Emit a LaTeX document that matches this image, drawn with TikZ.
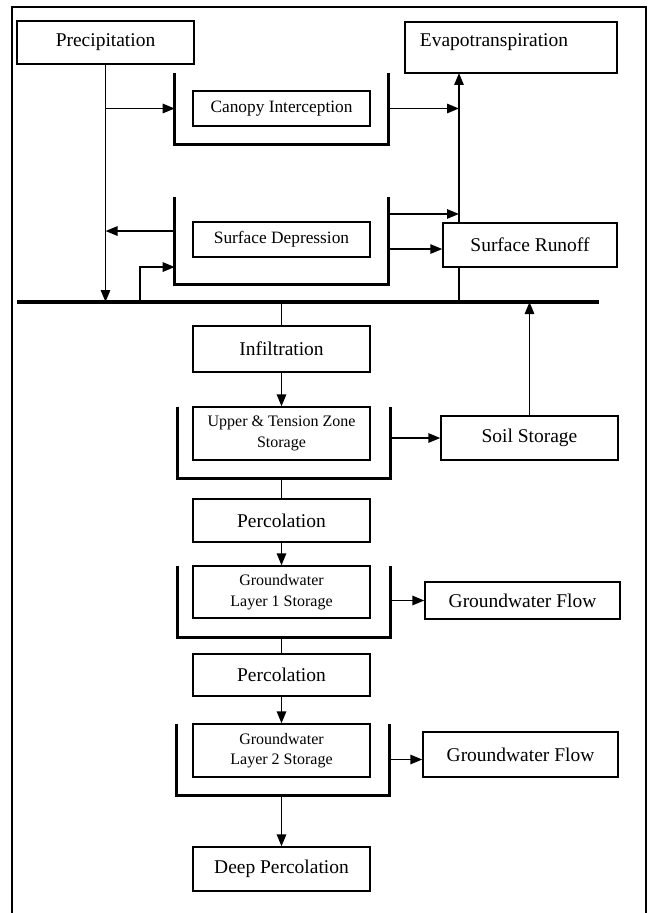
\documentclass[tikz,border=0pt]{standalone}
\usepackage{fontspec}
\setmainfont{Liberation Serif}
\usetikzlibrary{arrows.meta}
\newcommand{\pxu}{0.75pt}

\begin{document}
\begin{tikzpicture}[
					x=0.75pt,y=-0.75pt,
					bbox/.style={draw,line width=1pt,fill=white,inner sep=0pt,font=\fontsize{14.6}{17}\selectfont},
					mbox/.style={bbox,font=\fontsize{13}{15.5}\selectfont},
					sbox/.style={bbox,align=center,font=\fontsize{12}{15.5}\selectfont},
					blab/.style={inner sep=0pt,font=\fontsize{14.6}{17}\selectfont},
					tray/.style={inner sep=0pt},
					trayline/.style={line width=2.4pt},
					fline/.style={line width=1.4pt},
					flow/.style={fline,-{Triangle[length=9pt,width=7pt]}}
					]
					\useasboundingbox (0,0) rectangle (651,913);
					\draw[line width=1.5pt] (12,913) -- (12,7) -- (646,7) -- (646,913);
					\foreach \nm/\x/\y/\w/\h in {cb/281.5/108.5/213/71,sb/281.5/240.5/213/87,ub/284/442.5/212/71,gb1/284/601.5/212/71,gb2/283/759.5/212/71}{
						\node[tray,minimum width=\w*\pxu,minimum height=\h*\pxu] (\nm) at (\x,\y) {};
						\draw[trayline] (\nm.north west) |- (\nm.south east) -- (\nm.north east);
					}
					\coordinate (barL) at (17,302);
					\coordinate (barR) at (599,302);
					\draw[line width=3pt] (barL) -- (barR);
					\node[bbox,minimum width=177*\pxu,minimum height=43*\pxu] (prec) at (105.5,42.5) {Precipitation};
					\node[bbox,minimum width=212*\pxu,minimum height=51*\pxu] (et) at (511,47.5) {};
					\node[blab] (etlab) at (494,42) {Evapotranspiration};
					\node[mbox,minimum width=177*\pxu,minimum height=35*\pxu] (canopy) at (281.5,108.5) {Canopy Interception};
					\node[mbox,minimum width=177*\pxu,minimum height=35*\pxu] (sd) at (281.5,239.5) {Surface Depression};
					\node[bbox,minimum width=174*\pxu,minimum height=44*\pxu] (runoff) at (530,245) {Surface Runoff};
					\foreach \nm/\y/\h/\lab in {infil/349/46/Infiltration,perc1/520.5/43/Percolation,perc2/675/42/Percolation,deep/869/44/Deep Percolation}{
						\node[bbox,minimum width=177*\pxu,minimum height=\h*\pxu] (\nm) at (281.5,\y) {\lab};
					}
					\foreach \nm/\y/\h/\lab in {upper/433.5/53/{Upper \& Tension Zone\\Storage},gw1/592/52/{Groundwater\\Layer 1 Storage},gw2/750.5/53/{Groundwater\\Layer 2 Storage}}{
						\node[sbox,minimum width=177*\pxu,minimum height=\h*\pxu] (\nm) at (281.5,\y) {\lab};
					}
					\node[bbox,minimum width=177*\pxu,minimum height=44*\pxu] (soil) at (529.5,438) {Soil Storage};
					\node[bbox,minimum width=195*\pxu,minimum height=37*\pxu] (gwf1) at (522.5,600.5) {Groundwater Flow};
					\node[bbox,minimum width=195*\pxu,minimum height=45*\pxu] (gwf2) at (520.5,754.5) {Groundwater Flow};
					\coordinate (evin) at (459,73);
					\coordinate (sdin) at (140,302);
					\coordinate (sdback) at ([yshift=7.1pt]sb.west);
					\coordinate (sdfill) at ([yshift=-19.9pt]sb.west);
					\coordinate (sdet) at ([yshift=19.9pt]sb.east);
					\coordinate (sdro) at ([yshift=-6.4pt]sb.east);
					\draw[flow] (prec.south) -- (prec.south |- barL);
					\draw[flow] (prec.south |- cb.west) -- (cb.west);
					\draw[flow] (cb.east) -- (evin |- cb.east);
					\draw[fline] (evin |- barL) -- (evin |- runoff.south);
					\draw[flow] (evin |- runoff.north) -- (evin);
					\draw[flow] (sdback) -- (prec.south |- sdback);
					\draw[flow] (sdin) |- (sdfill);
					\draw[flow] (sdet) -- (evin |- sdet);
					\draw[flow] (sdro) -- (runoff.west |- sdro);
					\draw[fline] (infil.north |- barL) -- (infil.north);
					\draw[flow] (infil) -- (upper);
					\draw[flow] (ub.east |- soil.west) -- (soil.west);
					\draw[flow] (soil.north) -- (soil.north |- barL);
					\draw[fline] (perc1.north |- ub.south) -- (perc1.north);
					\draw[flow] (perc1) -- (gw1);
					\draw[flow] (gb1.east |- gwf1.west) -- (gwf1.west);
					\draw[fline] (perc2.north |- gb1.south) -- (perc2.north);
					\draw[flow] (perc2) -- (gw2);
					\draw[flow] (gb2.east) -- (gwf2.west |- gb2.east);
					\draw[flow] (deep.north |- gb2.south) -- (deep.north);
				\end{tikzpicture}
\end{document}
